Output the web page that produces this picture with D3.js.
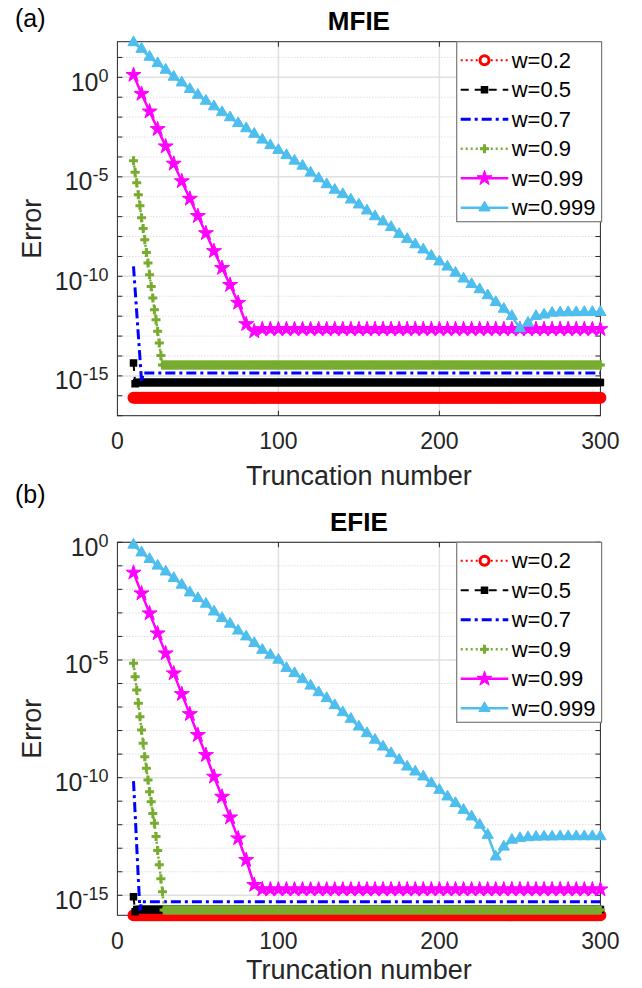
<!DOCTYPE html>
<html>
<head>
<meta charset="utf-8">
<script src="https://cdn.jsdelivr.net/npm/d3@7"></script>
<style>
  body { margin: 0; background: #fff; }
  text { font-family: 'Liberation Sans', Arial, sans-serif; }
</style>
</head>
<body>
<div id="chart"></div>
<script>
// truncation numbers: markers every 1 for the fast series, every 5 for the slow ones
const nFine = d3.range(10, 301)
const nCoarse = d3.range(10, 301, 5)

const legendLabels = ['w=0.2', 'w=0.5', 'w=0.7', 'w=0.9', 'w=0.99', 'w=0.999']
const xTicks = [0, 100, 200, 300]
const yMajor = [0, -5, -10, -15]

// values are log10(error)
// head = first points, plateau = level the curve sits at afterwards
// (a) MFIE
const mfieW02Plateau = -16.1
const mfieW05Head = [-14.35, -15.4]
const mfieW05Plateau = -15.33
const mfieW07Head = [-9.5, -10.65, -11.8, -12.95, -14.1, -15.3]
const mfieW07Plateau = -14.85
const mfieW09Head = [-4.19, -4.77, -5.3, -5.9, -6.45, -7.05, -7.6, -8.16, -8.8, -9.33,
  -9.92, -10.51, -11.09, -11.68, -12.18, -12.76, -13.35, -13.98]
const mfieW09Plateau = -14.45
const mfieW099Head = [0.12, -0.83, -1.72, -2.6, -3.47, -4.34, -5.22, -6.1, -6.97, -7.83,
  -8.73, -9.58, -10.43, -11.33, -12.4, -12.76]
const mfieW099Plateau = -12.65
const mfieW0999 = [1.75, 1.42, 1.02, 0.7, 0.37, 0.02, -0.27, -0.6, -0.89, -1.19,
  -1.47, -1.76, -2.02, -2.31, -2.57, -2.85, -3.14, -3.42, -3.66, -3.92,
  -4.2, -4.45, -4.8, -5.08, -5.38, -5.66, -5.88, -6.15, -6.4, -6.7,
  -6.99, -7.25, -7.53, -7.88, -8.13, -8.4, -8.66, -8.98, -9.26, -9.52,
  -9.83, -10.12, -10.4, -10.66, -10.96, -11.3, -11.64, -12.0, -12.62, -12.34,
  -12.0, -11.93, -11.84, -11.82, -11.81, -11.81, -11.8, -11.8, -11.8]

// (b) EFIE
const efieW02Plateau = -15.85
const efieW05Head = [-15.06, -15.7]
const efieW05Plateau = -15.6
const efieW07Head = [-10.15, -11.5, -12.9, -14.3, -15.65]
const efieW07Plateau = -15.27
const efieW09Head = [-5.14, -5.71, -6.28, -6.84, -7.41, -7.98, -8.54, -9.11, -9.6, -10.1,
  -10.6, -11.02, -11.52, -11.94, -12.5, -13.1, -13.7, -14.3, -14.85]
const efieW09Plateau = -15.63
const efieW099Head = [-1.29, -2.17, -3.02, -3.87, -4.72, -5.57, -6.45, -7.3, -8.19, -9.04,
  -9.96, -10.81, -11.69, -12.58, -13.5, -14.56]
const efieW099Plateau = -14.75
const efieW0999 = [-0.11, -0.44, -0.72, -1.0, -1.25, -1.53, -1.81, -2.14, -2.38, -2.62,
  -2.95, -3.23, -3.47, -3.76, -4.01, -4.29, -4.58, -4.79, -5.0, -5.35,
  -5.57, -5.82, -6.1, -6.38, -6.63, -6.93, -7.23, -7.51, -7.84, -8.12,
  -8.4, -8.69, -8.97, -9.25, -9.54, -9.75, -9.96, -10.24, -10.53, -10.81,
  -11.09, -11.38, -11.66, -12.01, -12.44, -13.36, -12.94, -12.65, -12.58, -12.54,
  -12.52, -12.51, -12.51, -12.5, -12.5, -12.5, -12.5, -12.5, -12.5]

function withPlateau(head, plateau, n) {
  return head.concat(new Array(n.length - head.length).fill(plateau))
}

const styles = [
  { color: '#ff0000', dash: '2,3', width: 2, marker: 'circle' },
  { color: '#000000', dash: '8,6', width: 2, marker: 'square' },
  { color: '#0000ff', dash: '10,4,3,4', width: 3, marker: null },
  { color: '#77ac30', dash: '2,3', width: 2.5, marker: 'plus' },
  { color: '#ff00ff', dash: null, width: 2.5, marker: 'star' },
  { color: '#4dbeee', dash: null, width: 2.5, marker: 'triangle' }
]

const panels = [
  {
    tag: '(a)', title: 'MFIE', top: 41.7, bottom: 415.7, tagY: 27, labelY: 485,
    yDomain: [1e-17, Math.pow(10, 1.79)],
    series: [
      [nFine, withPlateau([], mfieW02Plateau, nFine)],
      [nFine, withPlateau(mfieW05Head, mfieW05Plateau, nFine)],
      [nFine, withPlateau(mfieW07Head, mfieW07Plateau, nFine)],
      [nFine, withPlateau(mfieW09Head, mfieW09Plateau, nFine)],
      [nCoarse, withPlateau(mfieW099Head, mfieW099Plateau, nCoarse)],
      [nCoarse, mfieW0999]
    ]
  },
  {
    tag: '(b)', title: 'EFIE', top: 542.3, bottom: 915.3, tagY: 503, labelY: 979,
    yDomain: [Math.pow(10, -15.85), 1],
    series: [
      [nFine, withPlateau([], efieW02Plateau, nFine)],
      [nFine, withPlateau(efieW05Head, efieW05Plateau, nFine)],
      [nFine, withPlateau(efieW07Head, efieW07Plateau, nFine)],
      [nFine, withPlateau(efieW09Head, efieW09Plateau, nFine)],
      [nCoarse, withPlateau(efieW099Head, efieW099Plateau, nCoarse)],
      [nCoarse, efieW0999]
    ]
  }
]

const svg = d3
  .select('#chart')
  .append('svg')
  .attr('width', 642)
  .attr('height', 988)

const xPositionScale = d3
  .scaleLinear()
  .domain([0, 300])
  .range([117.4, 600.4])

function markerShape(type) {
  if (type === 'plus') return 'M-4.5,0H4.5M0,-4.5V4.5'
  const sym = {
    circle: [d3.symbolCircle, 64],
    square: [d3.symbolSquare, 36],
    star: [d3.symbolStar, 70],
    triangle: [d3.symbolTriangle, 55]
  }[type]
  return d3.symbol(sym[0], sym[1])()
}

function styleMarker(sel, s) {
  if (s.marker === 'circle' || s.marker === 'plus') {
    sel
      .attr('fill', 'none')
      .attr('stroke', s.color)
      .attr('stroke-width', 3)
  } else {
    sel
      .attr('fill', s.color)
      .attr('stroke', s.color)
      .attr('stroke-width', s.marker === 'square' ? 1.5 : 1)
  }
}

function drawPanel(p) {
  const g = svg.append('g')
  const left = xPositionScale.range()[0]
  const right = xPositionScale.range()[1]

  const yPositionScale = d3
    .scaleLog()
    .domain(p.yDomain)
    .range([p.bottom, p.top])

  const lo = Math.ceil(Math.log10(p.yDomain[0]))
  const hi = Math.floor(Math.log10(p.yDomain[1]))
  const decades = d3.range(lo, hi + 1)

  // grid
  g.selectAll('.minor')
    .data(decades.filter(d => yMajor.indexOf(d) < 0))
    .join('line')
    .attr('x1', left).attr('x2', right)
    .attr('y1', d => yPositionScale(Math.pow(10, d)))
    .attr('y2', d => yPositionScale(Math.pow(10, d)))
    .attr('stroke', '#cfcfcf')
    .attr('stroke-width', 1)
    .attr('stroke-dasharray', '1,2')

  g.selectAll('.major')
    .data(decades.filter(d => yMajor.indexOf(d) >= 0))
    .join('line')
    .attr('x1', left).attr('x2', right)
    .attr('y1', d => yPositionScale(Math.pow(10, d)))
    .attr('y2', d => yPositionScale(Math.pow(10, d)))
    .attr('stroke', '#e0e0e0')
    .attr('stroke-width', 1.5)

  g.selectAll('.xgrid')
    .data(xTicks.slice(1, -1))
    .join('line')
    .attr('x1', d => xPositionScale(d)).attr('x2', d => xPositionScale(d))
    .attr('y1', p.top).attr('y2', p.bottom)
    .attr('stroke', '#e0e0e0')
    .attr('stroke-width', 1.5)

  // box and ticks
  g.append('rect')
    .attr('x', left).attr('y', p.top)
    .attr('width', right - left).attr('height', p.bottom - p.top)
    .attr('fill', 'none')
    .attr('stroke', '#262626')
    .attr('stroke-width', 1)

  decades.forEach(d => {
    const yy = yPositionScale(Math.pow(10, d))
    g.append('line').attr('x1', left).attr('x2', left + 5)
      .attr('y1', yy).attr('y2', yy).attr('stroke', '#262626')
    g.append('line').attr('x1', right - 5).attr('x2', right)
      .attr('y1', yy).attr('y2', yy).attr('stroke', '#262626')
  })
  xTicks.slice(1, -1).forEach(d => {
    const xx = xPositionScale(d)
    g.append('line').attr('x1', xx).attr('x2', xx)
      .attr('y1', p.bottom).attr('y2', p.bottom - 5).attr('stroke', '#262626')
    g.append('line').attr('x1', xx).attr('x2', xx)
      .attr('y1', p.top).attr('y2', p.top + 5).attr('stroke', '#262626')
  })

  // tick labels
  g.selectAll('.xlab')
    .data(xTicks)
    .join('text')
    .attr('x', d => xPositionScale(d))
    .attr('y', p.bottom + 33.6)
    .attr('text-anchor', 'middle')
    .attr('font-size', 23)
    .attr('fill', '#262626')
    .text(d => d)

  const ylab = g.selectAll('.ylab')
    .data(yMajor)
    .join('text')
    .attr('x', 108.5)
    .attr('y', d => yPositionScale(Math.pow(10, d)) + 13.4)
    .attr('text-anchor', 'end')
    .attr('font-size', 25)
    .attr('fill', '#262626')
  ylab.append('tspan').text('10')
  ylab.append('tspan')
    .attr('dy', -9)
    .attr('font-size', 18)
    .text(d => d)

  // data
  const line = d3.line()
    .x(d => xPositionScale(d[0]))
    .y(d => yPositionScale(Math.pow(10, d[1])))

  p.series.forEach((ser, i) => {
    const s = styles[i]
    const pts = d3.zip(ser[0], ser[1])
    g.append('path')
      .datum(pts)
      .attr('d', line)
      .attr('fill', 'none')
      .attr('stroke', s.color)
      .attr('stroke-width', s.width)
      .attr('stroke-dasharray', s.dash)
    if (s.marker) {
      g.append('g')
        .selectAll('path')
        .data(pts)
        .join('path')
        .attr('d', markerShape(s.marker))
        .attr('transform', d => 'translate(' + line.x()(d) + ',' + line.y()(d) + ')')
        .call(styleMarker, s)
    }
  })

  // labels
  svg.append('text')
    .attr('x', 15)
    .attr('y', p.tagY)
    .attr('font-size', 25)
    .text(p.tag)

  svg.append('text')
    .attr('x', (left + right) / 2)
    .attr('y', p.top - 11.7)
    .attr('text-anchor', 'middle')
    .attr('font-size', 26)
    .attr('font-weight', 'bold')
    .text(p.title)

  svg.append('text')
    .attr('x', (left + right) / 2)
    .attr('y', p.labelY)
    .attr('text-anchor', 'middle')
    .attr('font-size', 27)
    .attr('fill', '#262626')
    .text('Truncation number')

  svg.append('text')
    .attr('transform', 'translate(41,' + (p.top + p.bottom) / 2 + ') rotate(-90)')
    .attr('text-anchor', 'middle')
    .attr('font-size', 27)
    .attr('fill', '#262626')
    .text('Error')

  // legend
  const lg = svg.append('g').attr('transform', 'translate(456.7,' + p.top + ')')
  lg.append('rect')
    .attr('width', 144.9)
    .attr('height', 180)
    .attr('fill', '#fff')
    .attr('stroke', '#7a7a7a')
    .attr('stroke-width', 1.2)

  legendLabels.forEach((label, i) => {
    const s = styles[i]
    const cy = 18.5 + i * 29.5
    lg.append('line')
      .attr('x1', 4).attr('x2', 51.6)
      .attr('y1', cy).attr('y2', cy)
      .attr('stroke', s.color)
      .attr('stroke-width', s.width)
      .attr('stroke-dasharray', s.dash)
    if (s.marker) {
      lg.append('path')
        .attr('d', markerShape(s.marker))
        .attr('transform', 'translate(27.8,' + cy + ')')
        .call(styleMarker, s)
        .attr('fill', s.marker === 'circle' ? '#fff' : (s.marker === 'plus' ? 'none' : s.color))
    }
    lg.append('text')
      .attr('x', 55)
      .attr('y', cy + 7.5)
      .attr('font-size', 22)
      .attr('fill', '#000')
      .text(label)
  })
}

panels.forEach(drawPanel)
</script>
</body>
</html>
